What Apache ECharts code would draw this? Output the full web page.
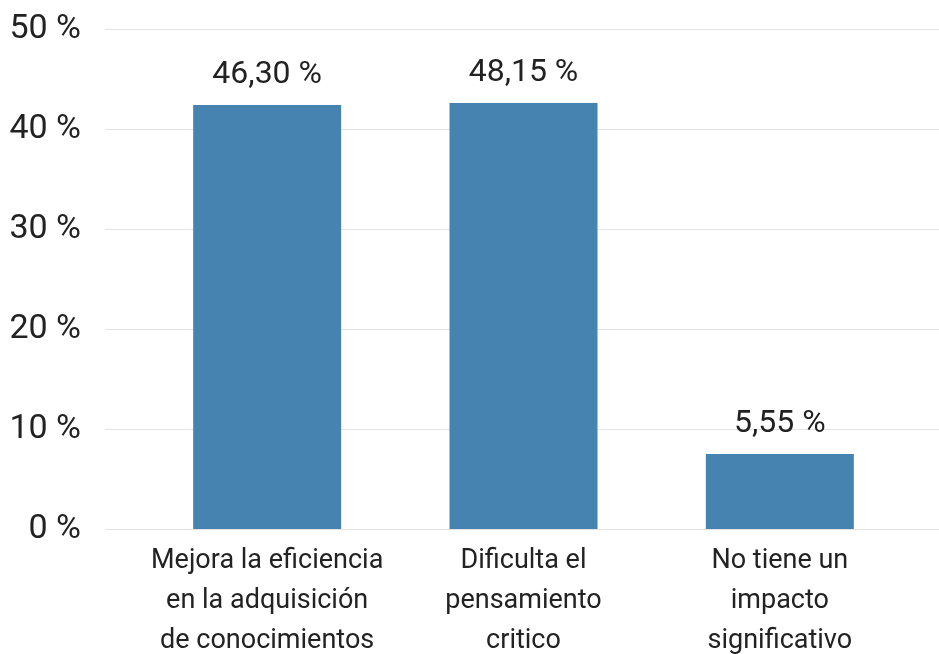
<!DOCTYPE html>
<html>
<head>
<meta charset="utf-8">
<script src="https://cdn.jsdelivr.net/npm/echarts@6/dist/echarts.min.js"></script>
<style>
  html, body { margin: 0; padding: 0; background: #fff; }
  #chart { width: 939px; height: 654px; }
</style>
</head>
<body>
<div id="chart"></div>
<script>
    // categorías del eje x
    const categories = [
        'Mejora la eficiencia\nen la adquisición\nde conocimientos',
        'Dificulta el\npensamiento\ncritico',
        'No tiene un\nimpacto\nsignificativo'
    ];
    // altura de las barras tal como se ven en la imagen
    const barValues = [42.4, 42.6, 7.5];
    // etiquetas impresas sobre cada barra
    const barLabels = ['46,30 %', '48,15 %', '5,55 %'];
    // marcas del eje y
    const yTicks = [0, 10, 20, 30, 40, 50];

    const textColor = '#222';
    const font = 'Roboto';

    let chart = echarts.init(document.getElementById('chart'));
    chart.setOption({
        animation: false,
        grid: [
            { left: 105, right: 0, top: 29, bottom: 125, outerBoundsMode: 'none' }, // rejilla de fondo con eje y
            { left: 139, width: 769, top: 29, bottom: 125, outerBoundsMode: 'none' } // barras
        ],
        xAxis: [
            { gridIndex: 0, type: 'category', data: categories, show: false },
            {
                gridIndex: 1,
                type: 'category',
                data: categories,
                axisLine: { show: false },
                axisTick: { show: false },
                axisLabel: {
                    color: textColor,
                    fontFamily: font,
                    fontSize: 27,
                    lineHeight: 40,
                    margin: 12,
                    interval: 0
                }
            }
        ],
        yAxis: [
            {
                gridIndex: 0,
                type: 'value',
                min: yTicks[0],
                max: yTicks[yTicks.length - 1],
                interval: 10,
                axisLine: { show: false },
                axisTick: { show: false },
                splitLine: { lineStyle: { color: '#e3e3e3', width: 1 } },
                axisLabel: {
                    color: textColor,
                    fontFamily: font,
                    fontSize: 34,
                    margin: 24,
                    formatter: '{value} %'
                }
            },
            {
                gridIndex: 1,
                type: 'value',
                min: yTicks[0],
                max: yTicks[yTicks.length - 1],
                show: false,
                splitLine: { show: false }
            }
        ],
        series: [
            {
                type: 'bar',
                xAxisIndex: 1,
                yAxisIndex: 1,
                data: barValues,
                barWidth: 148,
                itemStyle: { color: '#4783b0' },
                label: {
                    show: true,
                    position: 'top',
                    distance: 14,
                    color: textColor,
                    fontFamily: font,
                    fontSize: 32,
                    formatter: (p) => barLabels[p.dataIndex]
                }
            }
        ]
    });
</script>
</body>
</html>
